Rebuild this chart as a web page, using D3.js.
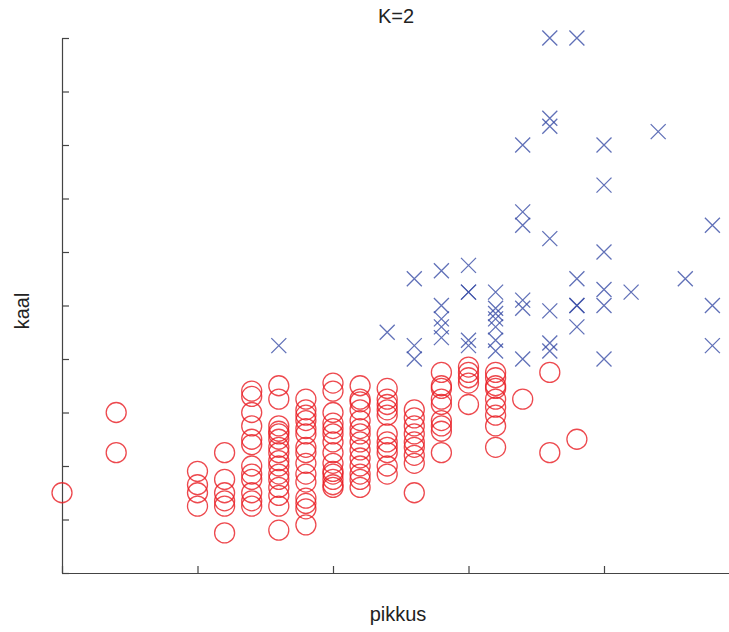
<!DOCTYPE html>
<html>
<head>
<meta charset="utf-8">
<script src="https://cdn.jsdelivr.net/npm/d3@7"></script>
<style>
  html, body { margin: 0; padding: 0; background: #fff; }
  svg { display: block; }
  text { font-family: "Liberation Sans", Arial, Helvetica, sans-serif; fill: #222; }
</style>
</head>
<body>
<svg id="chart" width="729" height="632"></svg>
<script>
// ---- data (pikkus = height, kaal = weight) ----
const title = "K=2";
const xLabel = "pikkus";
const yLabel = "kaal";
const xTicks = [60, 65, 70, 75, 80];
const yTicks = [80, 100, 120, 140, 160, 180, 200, 220, 240, 260, 280];

// cluster 1 (red circles): [pikkus, kaal]
const cluster1 = [
  [60,110],
  [62,140],[62,125],
  [65,118],[65,113],[65,110],[65,105],
  [66,125],[66,115],[66,110],[66,107],[66,105],[66,95],
  [67,148],[67,146],[67,140],[67,135],[67,130],[67,128],[67,120],[67,117],[67,115],[67,110],[67,107],[67,105],
  [68,150],[68,145],[68,135],[68,133],[68,132],[68,130],[68,127],[68,125],[68,122],[68,120],[68,117],[68,115],[68,112],[68,109],[68,105],[68,96],
  [69,145],[69,141],[69,139],[69,137],[69,134],[69,132],[69,127],[69,125],[69,121],[69,117],[69,114],[69,108],[69,106],[69,104],[69,98],
  [70,151],[70,148],[70,140],[70,136],[70,134],[70,132],[70,129],[70,125],[70,121],[70,118],[70,117],[70,115],[70,113],[70,112],
  [71,150],[71,145],[71,144],[71,141],[71,137],[71,134],[71,132],[71,129],[71,126],[71,123],[71,120],[71,117],[71,115],[71,112],
  [72,149],[72,145],[72,143],[72,141],[72,139],[72,132],[72,129],[72,127],[72,125],[72,120],[72,117],
  [73,141],[73,138],[73,135],[73,132],[73,129],[73,127],[73,124],[73,121],[73,110],
  [74,155],[74,150],[74,149],[74,145],[74,143],[74,137],[74,135],[74,133],[74,125],
  [75,157],[75,155],[75,153],[75,151],[75,143],
  [76,155],[76,153],[76,150],[76,149],[76,145],[76,142],[76,139],[76,135],[76,127],
  [77,145],
  [78,155],[78,125],
  [79,130]
];

// cluster 2 (blue crosses): [pikkus, kaal]
const cluster2 = [
  [68,165],
  [72,170],
  [73,190],[73,165],[73,160],
  [74,193],[74,180],[74,175],[74,172],[74,168],
  [75,195],[75,185],[75,185],[75,167],[75,165],
  [76,185],[76,179],[76,177],[76,175],[76,172],[76,167],[76,163],
  [77,240],[77,215],[77,210],[77,182],[77,179],[77,160],
  [78,280],[78,250],[78,247],[78,205],[78,178],[78,166],[78,163],
  [79,280],[79,190],[79,180],[79,180],[79,172],
  [80,240],[80,225],[80,200],[80,186],[80,180],[80,160],
  [81,185],
  [82,245],
  [83,190],
  [84,210],[84,180],[84,165]
];

// ---- drawing ----
const svg = d3.select("#chart");
const W = 729, H = 632;
const x0 = 62, x1 = 729, yTop = 38, yBot = 573;

const x = d3.scaleLinear().domain([60, 60 + (x1 - x0) / 27.1]).range([x0, x1]);
const y = d3.scaleLinear().domain([80, 280]).range([yBot, yTop]);

const axisColor = "#444";

// x axis (ticks inward)
const gx = svg.append("g").attr("transform", `translate(0,${yBot})`)
  .call(d3.axisBottom(x).tickValues(xTicks).tickSizeInner(-7).tickSizeOuter(0).tickFormat(""));
gx.select(".domain").attr("stroke", axisColor).attr("stroke-width", 1.2);
gx.selectAll(".tick line").attr("stroke", axisColor).attr("stroke-width", 1.2);

// y axis (ticks inward)
const gy = svg.append("g").attr("transform", `translate(${x0},0)`)
  .call(d3.axisLeft(y).tickValues(yTicks).tickSizeInner(-7).tickSizeOuter(0).tickFormat(""));
gy.select(".domain").attr("stroke", axisColor).attr("stroke-width", 1.2);
gy.selectAll(".tick line").attr("stroke", axisColor).attr("stroke-width", 1.2);

// red circles
svg.append("g").selectAll("circle").data(cluster1).join("circle")
  .attr("cx", d => x(d[0])).attr("cy", d => y(d[1])).attr("r", 10)
  .attr("fill", "none").attr("stroke", "rgb(232,28,34)")
  .attr("stroke-width", 1.3).attr("stroke-opacity", 0.8);

// blue crosses
const s = 7.5;
svg.append("g").selectAll("path").data(cluster2).join("path")
  .attr("transform", d => `translate(${x(d[0])},${y(d[1])})`)
  .attr("d", `M${-s},${-s}L${s},${s}M${-s},${s}L${s},${-s}`)
  .attr("fill", "none").attr("stroke", "rgb(58,78,166)")
  .attr("stroke-width", 1.3).attr("stroke-opacity", 0.8);

// texts
svg.append("text").attr("x", 396).attr("y", 23).attr("text-anchor", "middle")
  .attr("font-size", 20).text(title);
svg.append("text").attr("x", 398).attr("y", 621).attr("text-anchor", "middle")
  .attr("font-size", 20).text(xLabel);
svg.append("text").attr("transform", "translate(29,311) rotate(-90)")
  .attr("text-anchor", "middle").attr("font-size", 20).text(yLabel);
</script>
</body>
</html>
